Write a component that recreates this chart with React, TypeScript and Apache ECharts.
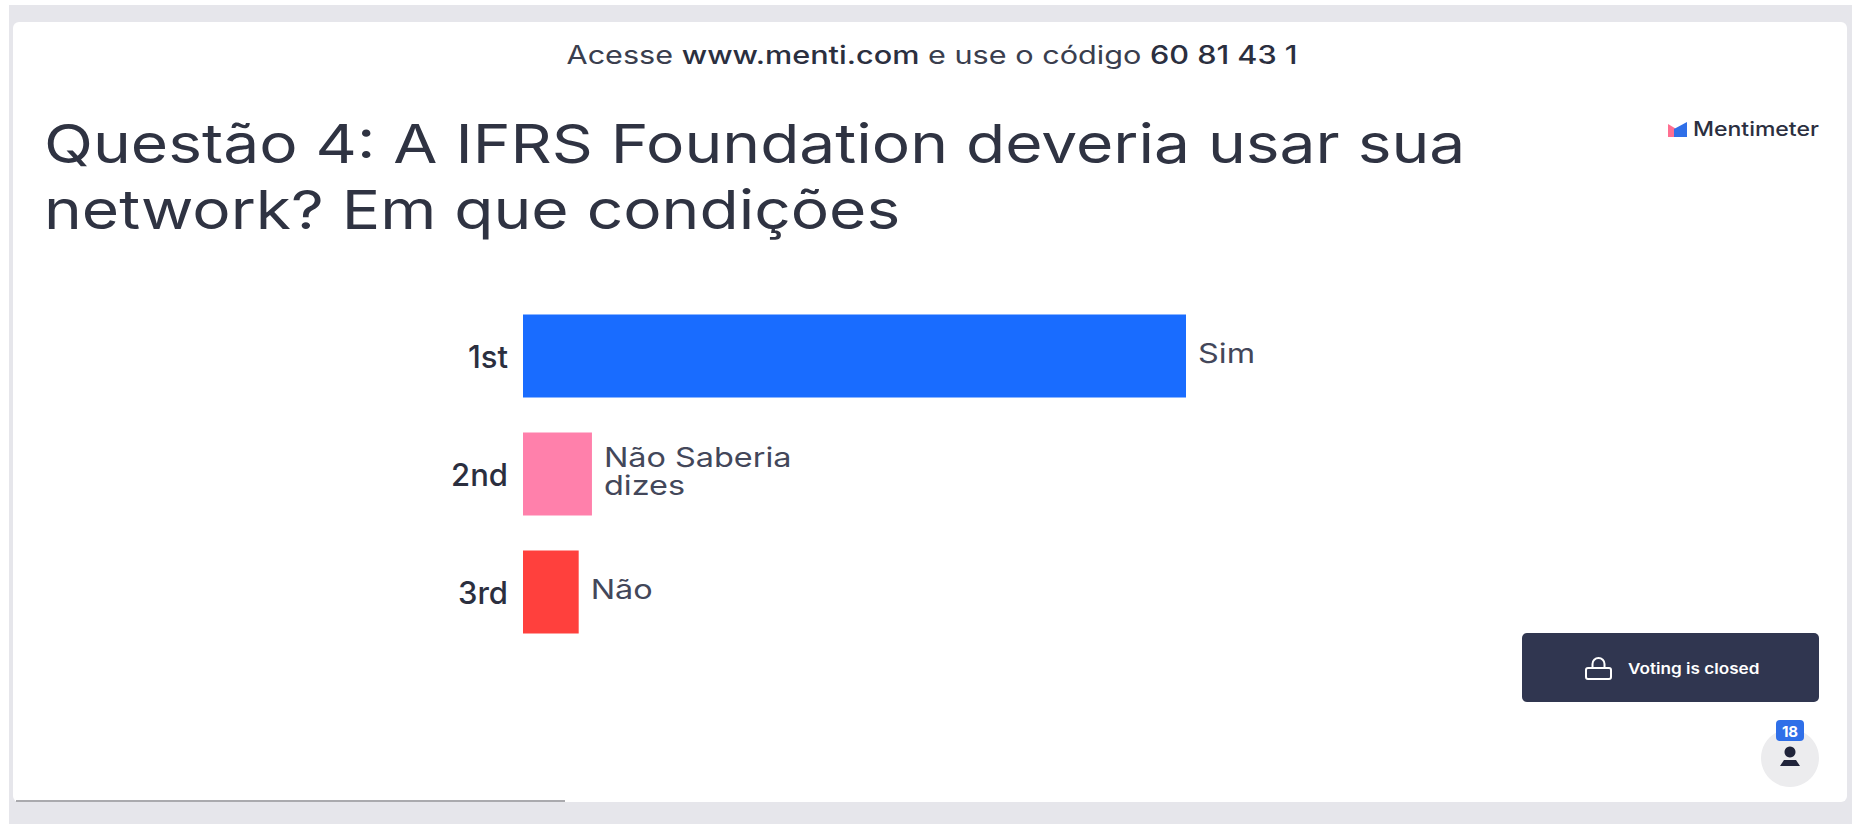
import React, { useEffect, useRef } from "react";
import * as echarts from "echarts";

const questionTitle = "Questão 4: A IFRS Foundation deveria usar sua\nnetwork? Em que condições";
const ranks = ["1st", "2nd", "3rd"];
const answers = ["Sim", "Não Saberia\ndizes", "Não"];
const scores = [100, 10.4, 8.4];
const barColors = ["#196cff", "#ff80ab", "#ff403d"];
const participants = "18";

const INK = "#2b2f3f";
const FONT = "Inter";
// The slide's typeface is much wider than anything installed, so text is stretched sideways.
const WIDE = 1.2;

export default function App() {
  const ref = useRef<HTMLDivElement>(null);

  useEffect(() => {
    const chart = echarts.init(ref.current!, null, { renderer: "svg" });
    chart.setOption({
      animation: false,
      backgroundColor: "#ffffff",
      textStyle: { fontFamily: FONT },
      grid: { left: 523, top: 297, width: 663, height: 354 },
      xAxis: { type: "value", min: 0, max: 100, show: false },
      yAxis: {
        type: "category",
        data: ranks,
        inverse: true,
        axisLine: { show: false },
        axisTick: { show: false },
        axisLabel: {
          margin: 15,
          fontSize: 31,
          fontWeight: 500,
          fontFamily: FONT,
          color: INK,
        },
      },
      series: [
        {
          type: "bar",
          barWidth: 83,
          data: scores.map((value, i) => ({ value, itemStyle: { color: barColors[i] } })),
        },
        {
          // Answer names sit just past the end of each bar
          type: "custom",
          silent: true,
          data: scores.map((value, i) => [value, i]),
          encode: { x: 0, y: 1 },
          renderItem: (_params: unknown, api: any) => {
            const index = api.value(1);
            const [px, py] = api.coord([api.value(0), index]);
            return {
              type: "text",
              x: px + 12,
              y: py - 3,
              scaleX: WIDE,
              style: {
                text: answers[index],
                verticalAlign: "middle",
                fontFamily: FONT,
                fontSize: 27,
                lineHeight: 28,
                fill: "#43475a",
              },
            };
          },
        },
      ],
      graphic: [
        // Page backdrop and the white slide card
        { type: "rect", z: -10, silent: true, shape: { x: 9, y: 5, width: 1843, height: 819 }, style: { fill: "#e6e6eb" } },
        { type: "rect", z: -9, silent: true, shape: { x: 13, y: 22, width: 1834, height: 780, r: 6 }, style: { fill: "#ffffff" } },
        { type: "line", z: -8, silent: true, shape: { x1: 16, y1: 801, x2: 565, y2: 801 }, style: { stroke: "#aaaaae", lineWidth: 2 } },

        // Join instructions
        {
          type: "text",
          x: 932,
          y: 55,
          scaleX: 1.225,
          style: {
            text: "{a|Acesse }{b|www.menti.com}{a| e use o código }{b|60 81 43 1}",
            align: "center",
            verticalAlign: "middle",
            fontFamily: FONT,
            rich: {
              a: { fontFamily: FONT, fontSize: 25, fill: "#3a3e4e", fontWeight: 400 },
              b: { fontFamily: FONT, fontSize: 25, fill: "#2b2f3f", fontWeight: 500 },
            },
          },
        },

        // Question heading
        {
          type: "text",
          x: 44,
          y: 110,
          scaleX: 1.186,
          style: {
            text: questionTitle,
            verticalAlign: "top",
            fontFamily: FONT,
            fontSize: 54,
            lineHeight: 66,
            fontWeight: 400,
            fill: "#2f3342",
          },
        },

        // Brand mark and name
        { type: "polygon", shape: { points: [[1668, 124], [1678, 130], [1678, 137], [1668, 137]] }, style: { fill: "#ff6f91" } },
        { type: "polygon", shape: { points: [[1687, 122], [1687, 137], [1674, 137], [1674, 129]] }, style: { fill: "#2f6fe8" } },
        {
          type: "text",
          x: 1693,
          y: 129,
          scaleX: 1.15,
          style: {
            text: "Mentimeter",
            verticalAlign: "middle",
            fontFamily: FONT,
            fontSize: 20,
            fontWeight: 500,
            fill: "#2b2f3f",
          },
        },

        // Voting status button
        { type: "rect", shape: { x: 1522, y: 633, width: 297, height: 69, r: 5 }, style: { fill: "#303650" } },
        { type: "rect", shape: { x: 1586, y: 668, width: 25, height: 11, r: 2 }, style: { fill: "none", stroke: "#ffffff", lineWidth: 2 } },
        {
          type: "arc",
          shape: { cx: 1598.5, cy: 664, r: 6, startAngle: Math.PI, endAngle: Math.PI * 2, clockwise: true },
          style: { fill: "none", stroke: "#ffffff", lineWidth: 2 },
        },
        { type: "line", shape: { x1: 1592.5, y1: 664, x2: 1592.5, y2: 668 }, style: { stroke: "#ffffff", lineWidth: 2 } },
        { type: "line", shape: { x1: 1604.5, y1: 664, x2: 1604.5, y2: 668 }, style: { stroke: "#ffffff", lineWidth: 2 } },
        {
          type: "text",
          x: 1628,
          y: 668,
          scaleX: 1.144,
          style: {
            text: "Voting is closed",
            verticalAlign: "middle",
            fontFamily: FONT,
            fontSize: 15,
            fontWeight: 600,
            fill: "#ffffff",
          },
        },

        // Participant counter
        { type: "circle", shape: { cx: 1790, cy: 758, r: 29 }, style: { fill: "#ececee" } },
        { type: "circle", shape: { cx: 1790, cy: 752, r: 5.5 }, style: { fill: "#20243a" } },
        { type: "polygon", shape: { points: [[1780, 766], [1784, 760], [1796, 760], [1800, 766]] }, style: { fill: "#20243a" } },
        { type: "rect", shape: { x: 1776, y: 720, width: 28, height: 21, r: 4 }, style: { fill: "#2f6fe8" } },
        {
          type: "text",
          x: 1790,
          y: 731,
          style: {
            text: participants,
            align: "center",
            verticalAlign: "middle",
            fontFamily: FONT,
            fontSize: 15,
            fontWeight: 700,
            fill: "#ffffff",
          },
        },
      ],
    });
    return () => chart.dispose();
  }, []);

  return <div ref={ref} style={{ position: "fixed", left: 0, top: 0, width: 1852, height: 824 }} />;
}
